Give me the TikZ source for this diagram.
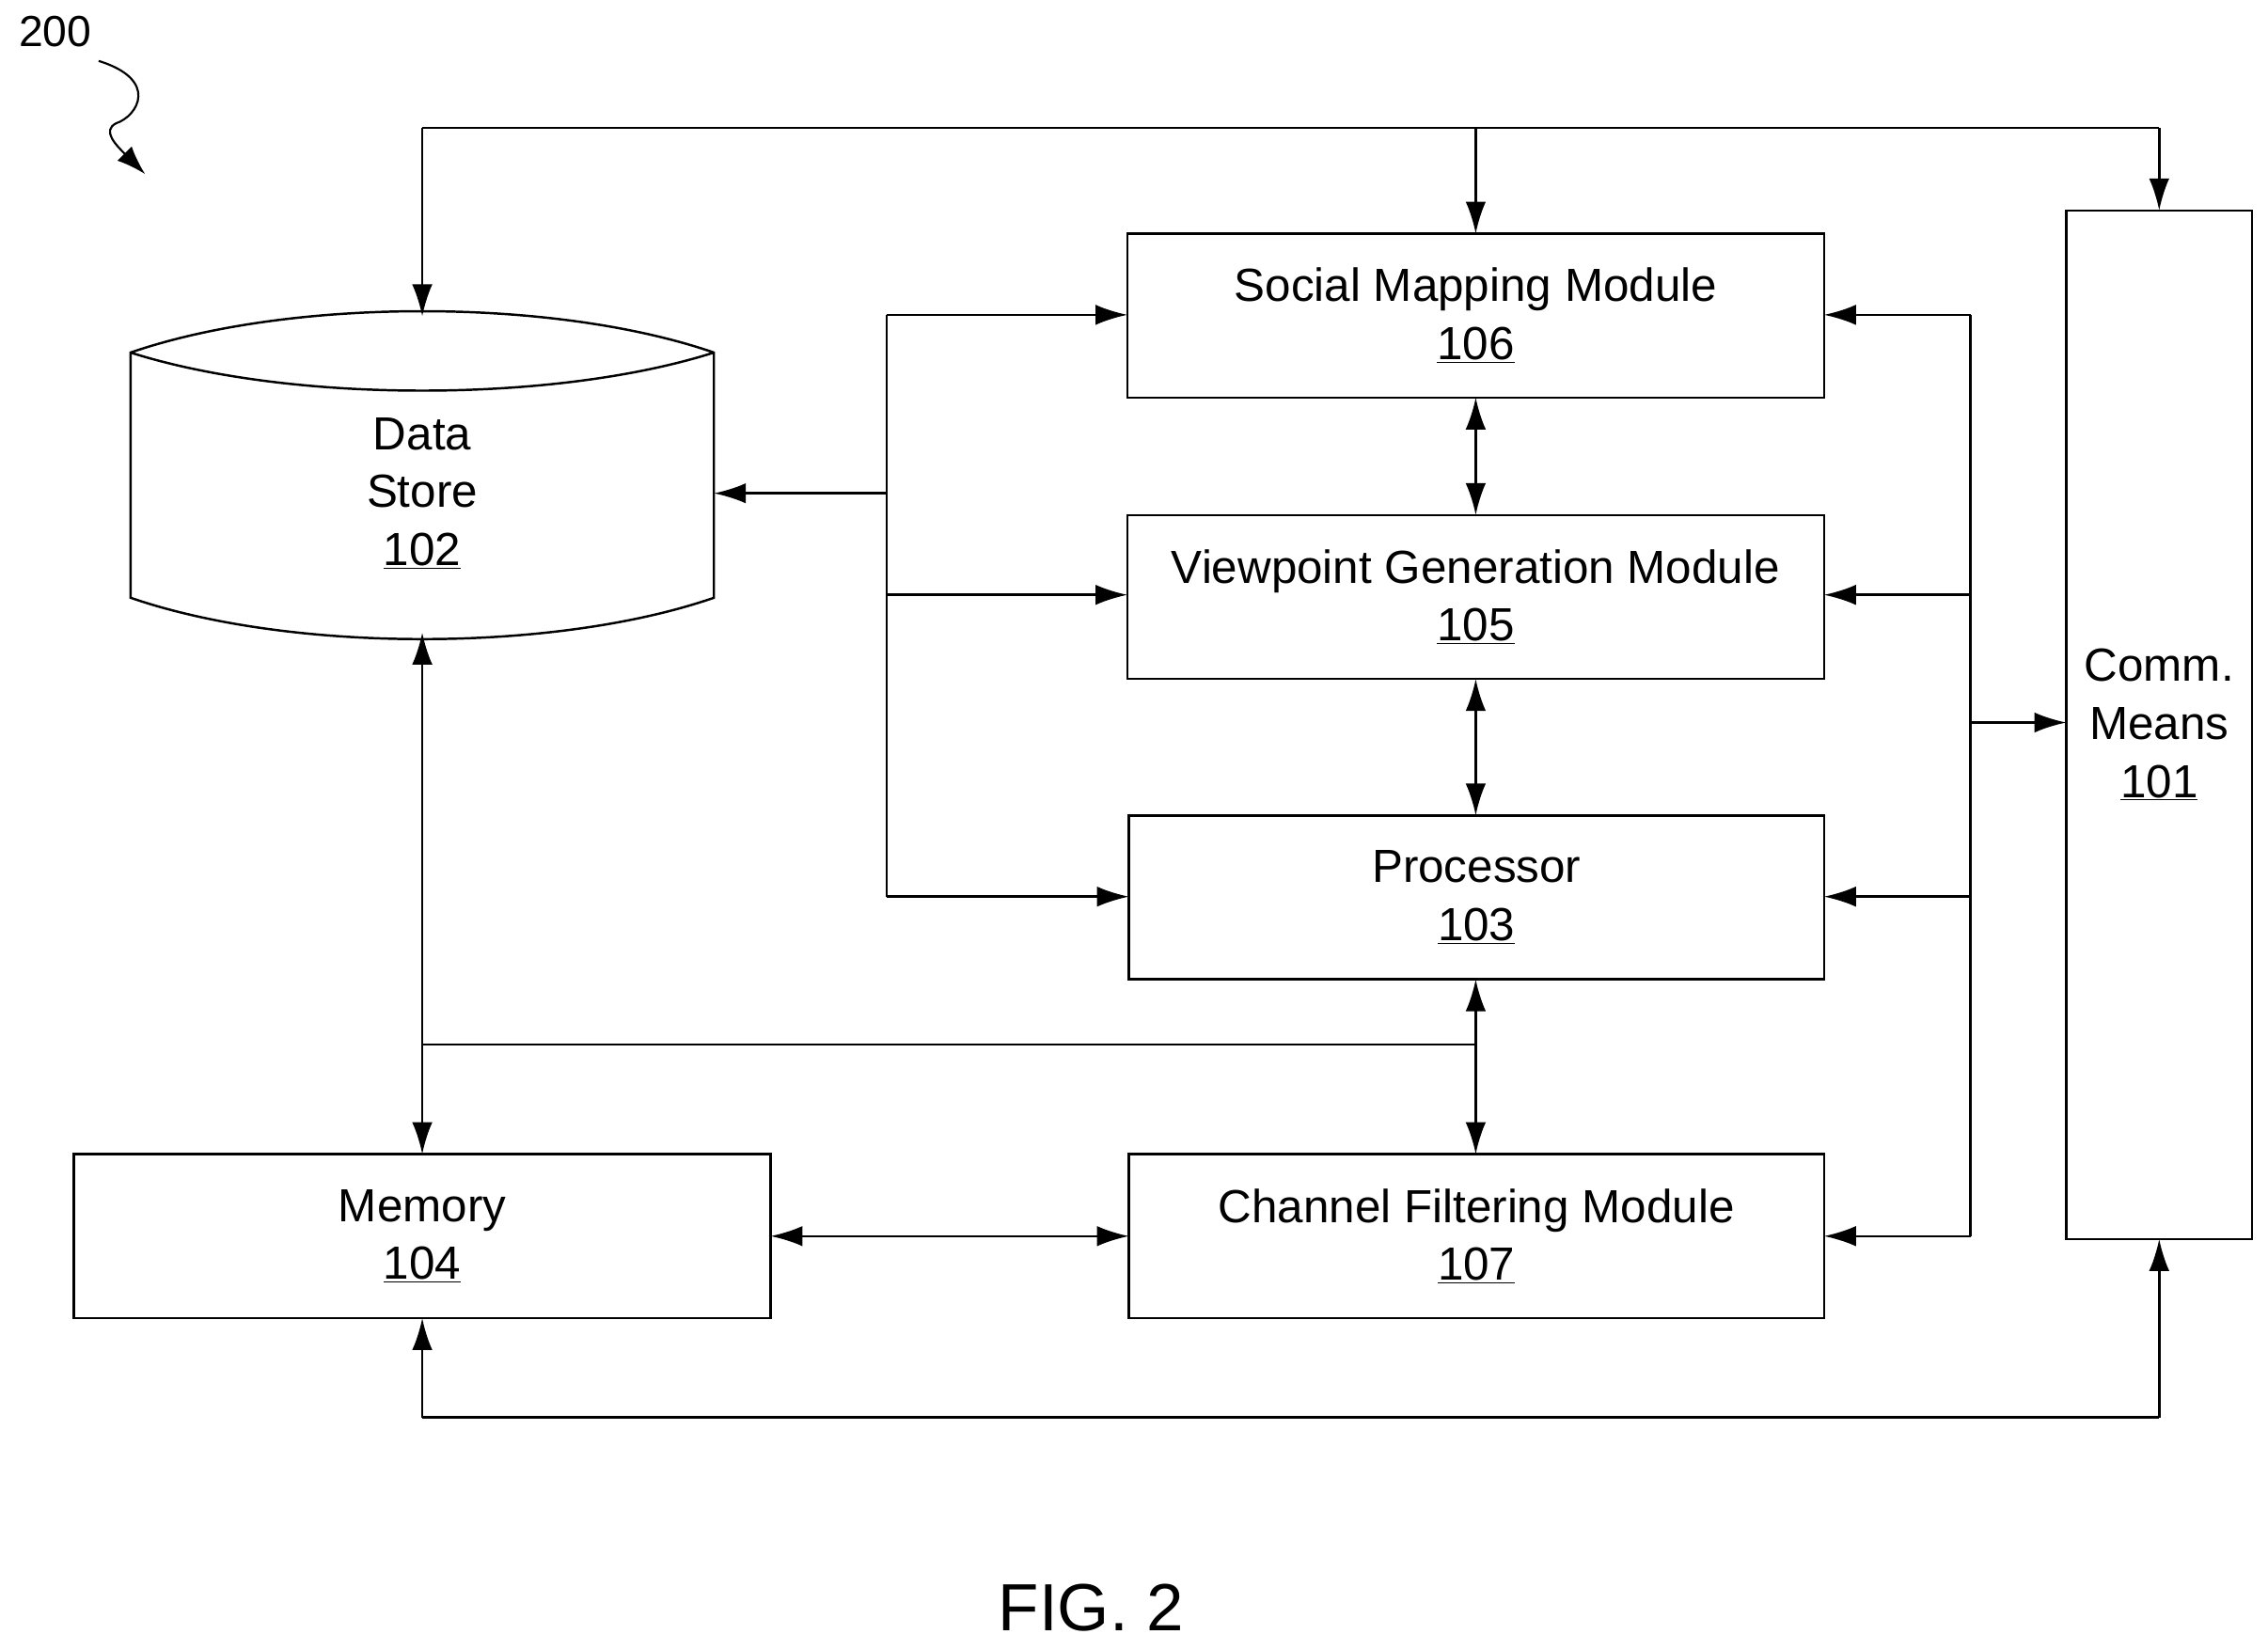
\documentclass[tikz,border=0pt]{standalone}
\usepackage{fontspec}
\setmainfont{Liberation Sans}
\usetikzlibrary{arrows.meta}
\begin{document}
\begin{tikzpicture}[x=1pt,y=-1pt,
  box/.style={draw,line width=1.6pt,minimum width=480pt,minimum height=113pt,inner sep=0,outer sep=0,font=\fontsize{32}{40}\selectfont,align=center},
  ln/.style={line width=1.6pt,-{Latex[length=22pt,width=14pt]}},
  dl/.style={line width=1.6pt,{Latex[length=22pt,width=14pt]}-{Latex[length=22pt,width=14pt]}},
  pl/.style={line width=1.6pt}]
\useasboundingbox (0,0) rectangle (1563,1137);
\node[box] (sm) at (1017,217.5) {Social Mapping Module\\\underline{106}};
\node[box] (vg) at (1017,411.5) {Viewpoint Generation Module\\\underline{105}};
\node[box,minimum width=479pt] (pr) at (1017.5,618.5) {Processor\\\underline{103}};
\node[box,minimum width=479pt] (cf) at (1017.5,852) {Channel Filtering Module\\\underline{107}};
\node[box] (me) at (291,852) {Memory\\\underline{104}};
\node[box,minimum width=128pt,minimum height=709pt] (cm) at (1488,499.5) {Comm.\\Means\\\underline{101}};
% data store
\draw[line width=1.6pt,fill=white] (90,243) .. controls (200,205) and (382,205) .. (492,243) -- (492,412)
  .. controls (382,450) and (200,450) .. (90,412) -- cycle;
\draw[line width=1.6pt] (90,243) .. controls (200,278) and (382,278) .. (492,243);
\node[font=\fontsize{32}{40}\selectfont,align=center] (ds) at (291,340) {Data\\Store\\\underline{102}};
\coordinate (dsT) at (291,218); \coordinate (dsB) at (291,436); \coordinate (dsR) at (492,340);
% label 200
\node[font=\fontsize{30}{36}\selectfont] (lbl) at (38,22) {200};
\coordinate (sq0) at (68,42); \coordinate (sq1) at (100,120);
\draw[line width=1.4pt,-{Latex[length=20pt,width=14pt]}] (sq0) .. controls (110,55) and (95,80) .. (80,85) .. controls (70,90) and (80,100) .. (sq1);
% top line
\coordinate (t1) at (291,88); \coordinate (t3) at (1488,88); \coordinate (t2) at (1017,88);
\draw[pl] (t1) -- (t3);
\draw[ln] (t1) -- (dsT);
\draw[ln] (t2) -- (sm.north);
\draw[ln] (t3) -- (cm.north);
% left bus
\coordinate (l1) at (611,217); \coordinate (l2) at (611,410); \coordinate (l3) at (611,618); \coordinate (l0) at (611,340);
\draw[pl] (l1) -- (l3);
\draw[ln] (l1) -- (sm.west|-l1);
\draw[ln] (l2) -- (vg.west|-l2);
\draw[ln] (l3) -- (pr.west|-l3);
\draw[ln] (l0) -- (dsR);
% right bus
\coordinate (r1) at (1358,217); \coordinate (r2) at (1358,410); \coordinate (r3) at (1358,618); \coordinate (r4) at (1358,852); \coordinate (r0) at (1358,498);
\draw[pl] (r1) -- (r4);
\draw[ln] (r1) -- (sm.east|-r1);
\draw[ln] (r2) -- (vg.east|-r2);
\draw[ln] (r3) -- (pr.east|-r3);
\draw[ln] (r4) -- (cf.east|-r4);
\draw[ln] (r0) -- (cm.west|-r0);
% vertical doubles
\draw[dl] (sm.south) -- (vg.north);
\draw[dl] (vg.south) -- (vg.south|-pr.north);
\draw[dl] (pr.south-|vg.south) -- (cf.north-|vg.south);
\draw[dl] (dsB) -- (me.north);
\coordinate (h1) at (291,720); \coordinate (h2) at (1017,720);
\draw[pl] (h1) -- (h2);
\draw[dl] (me.east) -- (cf.west);
% bottom
\coordinate (b1) at (291,977); \coordinate (b2) at (1488,977);
\draw[pl] (b1) -- (b2);
\draw[ln] (b1) -- (me.south);
\draw[ln] (b2) -- (cm.south);
\node[font=\fontsize{46}{50}\selectfont] (fig) at (752,1108) {FIG. 2};
\end{tikzpicture}
\end{document}
